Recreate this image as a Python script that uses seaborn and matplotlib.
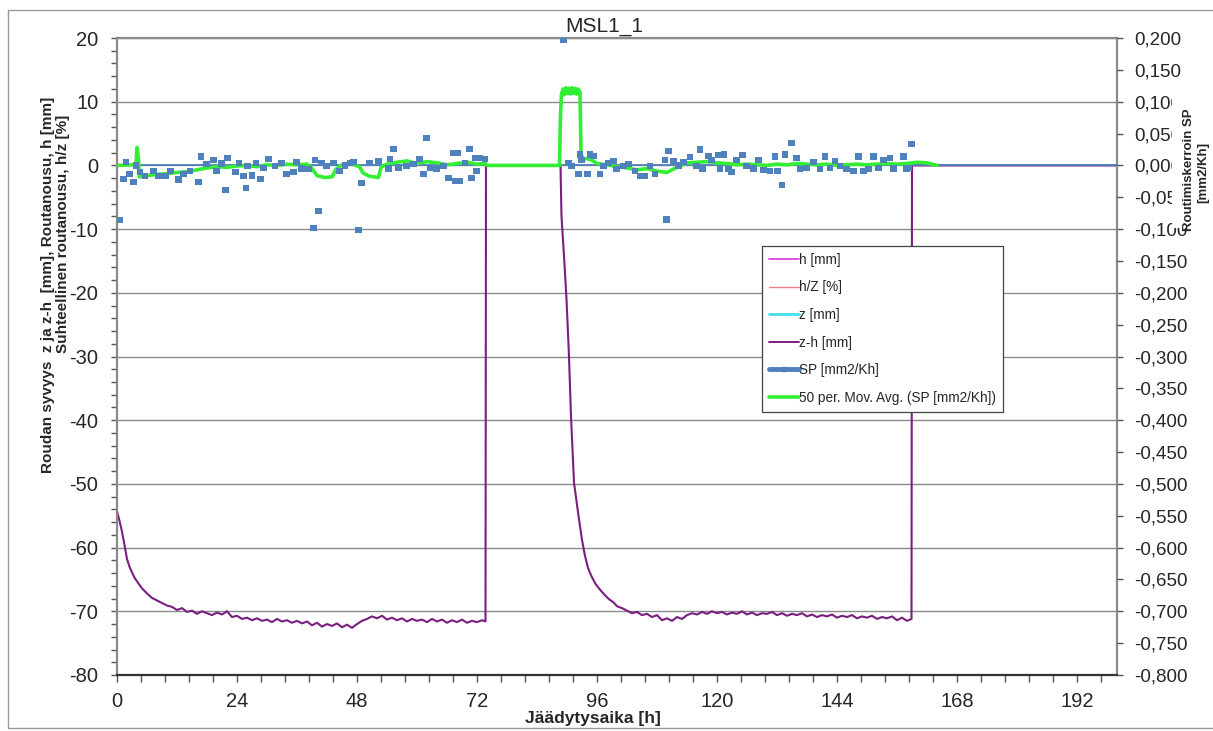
import numpy as np
import pandas as pd
import matplotlib
matplotlib.use("Agg")
import matplotlib.pyplot as plt
from matplotlib.lines import Line2D
from matplotlib.patches import Rectangle
from matplotlib.ticker import MultipleLocator, FuncFormatter
import seaborn as sns

# ---------------- data ----------------
# z-h [mm] : (time h, value mm)
zh_points = [
    (0, -54.3), (0.5, -55.8), (1, -57.5), (1.5, -59.6), (2, -61.8), (2.5, -63.0), (3, -63.9),
    (3.5, -64.7), (4, -65.3), (5, -66.4), (6, -67.2), (7, -67.9), (8, -68.3), (9, -68.7),
    (10, -69.1), (11, -69.3), (12, -69.8), (13, -69.5), (14, -70.1), (15, -69.9), (16, -70.4),
    (17, -70.0), (18, -70.3), (19, -70.6), (20, -70.2), (21, -70.5), (22, -70.0), (23, -70.9),
    (24, -70.7), (25, -71.2), (26, -71.0), (27, -71.4), (28, -71.1), (29, -71.5), (30, -71.3),
    (31, -71.7), (32, -71.2), (33, -71.6), (34, -71.4), (35, -71.8), (36, -71.5), (37, -71.9),
    (38, -71.6), (39, -72.2), (40, -71.8), (41, -72.4), (42, -72.0), (43, -72.3), (44, -71.9),
    (45, -72.5), (46, -72.1), (47, -72.6), (48, -72.0), (49, -71.5), (50, -71.2), (51, -70.8),
    (52, -71.1), (53, -70.7), (54, -71.3), (55, -71.0), (56, -71.4), (57, -71.1), (58, -71.6),
    (59, -71.2), (60, -71.5), (61, -71.3), (62, -71.7), (63, -71.2), (64, -71.6), (65, -71.3),
    (66, -71.8), (67, -71.4), (68, -71.7), (69, -71.3), (70, -71.8), (71, -71.5), (72, -71.7),
    (73, -71.4), (73.7, -71.6), (73.8, 0.0), (88.6, 0.0),
    (88.7, 0.0), (88.9, -8.0), (89.4, -14.2), (89.9, -21.0), (90.4, -30.0), (90.8, -39.4),
    (91.4, -49.8), (92.3, -55.0), (93.0, -58.8), (93.6, -61.3), (94.2, -63.2), (94.9, -64.5),
    (95.7, -65.7), (96.6, -66.6), (97.5, -67.4), (98.4, -68.1), (99.3, -68.6), (100, -69.2),
    (101, -69.5), (102, -69.9), (103, -70.3), (104, -70.1), (105, -70.6), (106, -70.4),
    (107, -70.9), (108, -70.6), (109, -71.4), (110, -71.1), (111, -71.5), (112, -70.9),
    (113, -71.2), (114, -70.6), (115, -70.3), (116, -70.5), (117, -70.1), (118, -70.4),
    (119, -70.0), (120, -70.3), (121, -70.1), (122, -70.5), (123, -70.2), (124, -70.4),
    (125, -70.0), (126, -70.5), (127, -70.2), (128, -70.6), (129, -70.3), (130, -70.4),
    (131, -70.1), (132, -70.6), (133, -70.3), (134, -70.7), (135, -70.4), (136, -70.6),
    (137, -70.3), (138, -70.8), (139, -70.5), (140, -70.9), (141, -70.6), (142, -70.8),
    (143, -70.5), (144, -71.0), (145, -70.7), (146, -70.9), (147, -70.6), (148, -71.1),
    (149, -70.8), (150, -71.0), (151, -70.7), (152, -71.2), (153, -70.9), (154, -71.1),
    (155, -70.8), (156, -71.4), (157, -71.0), (158, -71.5), (158.9, -71.2), (159.0, 0.0),
    (200, 0.0),
]

# SP [mm2/Kh] : (time h, value)
sp_points = [
    (0.6, -0.086), (1.3, -0.021), (1.8, 0.005), (2.5, -0.013), (3.3, -0.026), (3.8, 0.000),
    (4.6, -0.010), (5.6, -0.017), (7.3, -0.009), (8.3, -0.017), (9.7, -0.017), (10.7, -0.009),
    (12.3, -0.022), (13.3, -0.014), (14.6, -0.009), (16.3, -0.026), (16.8, 0.014), (17.9, 0.002),
    (19.3, 0.008), (19.9, -0.009), (20.9, 0.003), (21.7, -0.039), (22.1, 0.012), (23.7, -0.010),
    (24.4, 0.004), (25.3, -0.017), (25.8, -0.035), (26.1, -0.001), (27.0, -0.016), (27.8, 0.004),
    (28.7, -0.021), (29.3, -0.004), (30.3, 0.010), (31.6, -0.001), (32.9, 0.004), (33.9, -0.013),
    (35.3, -0.010), (35.9, 0.005), (36.9, -0.005), (38.3, -0.006), (39.3, -0.098), (39.6, 0.008),
    (40.3, -0.072), (40.9, 0.004), (41.9, -0.001), (43.3, 0.004), (44.5, -0.009), (45.6, 0.000),
    (46.6, 0.004), (47.3, 0.005), (48.3, -0.102), (48.9, -0.028), (50.5, 0.004), (52.3, 0.007),
    (54.3, -0.005), (54.6, 0.010), (55.3, 0.026), (56.3, -0.004), (57.9, -0.001), (59.3, 0.002),
    (60.5, 0.010), (61.3, -0.014), (61.9, 0.043), (62.6, -0.004), (63.9, -0.006), (65.3, -0.001),
    (66.3, -0.020), (67.3, 0.019), (67.6, -0.025), (68.1, 0.020), (68.6, -0.025), (69.6, 0.004),
    (70.5, 0.026), (70.9, -0.020), (71.6, 0.012), (71.9, -0.009), (72.6, 0.012), (73.6, 0.010),
    (89.3, 0.197), (90.3, 0.004), (90.9, -0.001), (92.3, -0.013), (92.6, 0.017), (92.9, 0.009),
    (94.1, -0.013), (94.6, 0.017), (95.3, 0.015), (96.6, -0.013), (97.3, -0.001), (98.3, 0.004),
    (99.3, 0.007), (99.9, -0.006), (101.3, -0.001), (102.3, 0.002), (103.6, -0.009),
    (104.6, -0.017), (105.6, -0.017), (106.6, -0.001), (107.6, -0.014), (109.6, 0.009),
    (109.9, -0.085), (110.3, 0.023), (111.3, 0.007), (112.3, 0.000), (113.3, 0.005),
    (114.6, 0.013), (115.9, -0.001), (116.6, 0.025), (117.1, -0.006), (118.3, 0.015),
    (118.9, 0.009), (120.3, 0.016), (120.6, -0.005), (121.4, 0.017), (122.3, -0.006),
    (122.9, -0.010), (123.9, 0.009), (125.1, 0.016), (125.9, -0.001), (127.3, -0.005),
    (128.3, 0.009), (129.3, -0.007), (130.6, -0.009), (131.6, 0.014), (132.1, -0.009),
    (133.0, -0.031), (133.6, 0.017), (134.9, 0.035), (135.9, 0.012), (136.6, -0.006),
    (137.9, -0.004), (139.3, 0.005), (140.6, -0.006), (141.6, 0.014), (142.6, -0.004),
    (143.6, 0.007), (144.6, -0.001), (145.9, -0.006), (147.3, -0.009), (148.3, 0.014),
    (149.3, -0.009), (150.3, -0.006), (151.3, 0.014), (152.3, -0.004), (153.3, 0.009),
    (154.6, 0.012), (155.3, -0.005), (157.3, 0.014), (157.9, -0.005), (158.3, -0.004),
    (158.9, 0.033),
]

# 50 per. moving average of SP : (time h, value)
ma_points = [
    (0, 0.0), (3.8, 0.001), (4.0, 0.028), (4.3, 0.010), (4.5, -0.018), (6, -0.016), (8, -0.014),
    (10, -0.013), (12, -0.011), (14, -0.010), (16, -0.007), (18, -0.004), (20, -0.002),
    (22, -0.003), (24, -0.001), (26, 0.0), (28, -0.002), (30, 0.001), (32, 0.0), (34, 0.002),
    (36, 0.001), (38, 0.002), (39, -0.005), (40, -0.016), (41.5, -0.019), (43, -0.018),
    (43.8, -0.006), (45, 0.001), (47, 0.002), (48.5, -0.002), (49.2, -0.012), (50.5, -0.017),
    (52.3, -0.019), (52.8, -0.003), (54, 0.002), (56, 0.005), (58, 0.007), (60, 0.003),
    (62, 0.006), (64, 0.004), (66, 0.001), (68, 0.003), (70, 0.005), (72, 0.002), (73.7, 0.003),
    (74, 0.0), (88.5, 0.0), (88.7, 0.080), (88.9, 0.112), (89.2, 0.120), (89.5, 0.111),
    (89.8, 0.122), (90.1, 0.113), (90.4, 0.121), (90.7, 0.112), (91.0, 0.122), (91.3, 0.113),
    (91.6, 0.121), (91.9, 0.112), (92.2, 0.120), (92.6, 0.115), (92.8, 0.020), (93.2, 0.009),
    (94, 0.011), (95, 0.008), (96, 0.003), (98, 0.001), (100, -0.002), (102, -0.004),
    (104, -0.007), (106, -0.005), (108, -0.009), (110, -0.011), (112, -0.003), (114, 0.004),
    (116, 0.005), (118, 0.006), (120, 0.004), (122, 0.003), (124, 0.001), (126, 0.002),
    (128, 0.001), (130, 0.0), (132, 0.002), (134, 0.001), (136, 0.003), (138, 0.002),
    (140, 0.001), (142, 0.002), (144, 0.0), (146, 0.001), (148, 0.002), (150, 0.001),
    (152, 0.002), (154, 0.003), (156, 0.002), (158, 0.003), (160, 0.005), (162, 0.004),
    (163, 0.002), (164, 0.0),
]

legend_labels = ["h [mm]", "h/Z [%]", "z [mm]", "z-h [mm]", "SP [mm2/Kh]",
                 "50 per. Mov. Avg. (SP [mm2/Kh])"]
x_ticks = [0, 24, 48, 72, 96, 120, 144, 168, 192]

zh = pd.DataFrame(zh_points, columns=["t", "v"])
sp = pd.DataFrame(sp_points, columns=["t", "v"])
ma = pd.DataFrame(ma_points, columns=["t", "v"])

# ---------------- style ----------------
sns.set_style("white")
plt.rcParams['font.family'] = ['Liberation Sans', 'DejaVu Sans']
plt.rcParams['axes.unicode_minus'] = False

C_H = "#E050E0"
C_HZ = "#F08080"
C_Z = "#40E0E8"
C_ZH = "#7A1E80"
C_SP = "#4F81BD"
C_MA = "#33EE33"
GRID = "#8A8A8A"

W, H = 1213, 731
fig = plt.figure(figsize=(W / 100, H / 100), dpi=100)
ax = fig.add_axes([117 / W, 56 / H, 1000 / W, 637 / H])

# z-h line on left axis
sns.lineplot(data=zh, x="t", y="v", ax=ax, color=C_ZH, linewidth=1.5,
             estimator=None, sort=False, legend=False)

ax.set_xlim(0, 200)
ax.set_ylim(-80, 20)
ax.xaxis.set_major_locator(MultipleLocator(24))
ax.xaxis.set_minor_locator(MultipleLocator(4.8))
ax.yaxis.set_major_locator(MultipleLocator(10))
ax.yaxis.set_minor_locator(MultipleLocator(2))
ax.set_xticks(x_ticks)
ax.yaxis.set_major_formatter(FuncFormatter(lambda v, p: f"{int(round(v))}"))
ax.grid(axis="y", which="major", color=GRID, linewidth=1.0)
ax.grid(axis="x", visible=False)
ax.set_xlabel("")
ax.set_ylabel("")
ax.tick_params(axis="both", which="major", labelsize=14.5, direction="out", length=4.5,
               width=1.0, color="#555555")
ax.tick_params(axis="y", which="major", pad=9, left=True)
ax.tick_params(axis="y", which="minor", direction="out", length=4, width=1.0,
               color="#555555", left=True)
ax.tick_params(axis="x", which="major", pad=7, bottom=True, length=5)
ax.tick_params(axis="x", which="minor", direction="out", length=5, width=1.0,
               color="#555555", bottom=True)
for s in ["left", "top"]:
    ax.spines[s].set_color("#8A8A8A")
    ax.spines[s].set_linewidth(1.6)
ax.spines["bottom"].set_color("#333333")
ax.spines["bottom"].set_linewidth(1.6)
ax.spines["right"].set_color("#8A8A8A")
ax.spines["right"].set_linewidth(1.6)

# right axis: SP
ax2 = ax.twinx()
ax2.axhline(0, color=C_SP, linewidth=1.3, zorder=1)
sns.lineplot(data=ma, x="t", y="v", ax=ax2, color=C_MA, linewidth=2.6,
             estimator=None, sort=False, legend=False, zorder=3)
sns.scatterplot(data=sp, x="t", y="v", ax=ax2, color=C_SP, marker="s", s=20,
                edgecolor="none", linewidth=0, zorder=4, legend=False)
ax2.set_ylim(-0.8, 0.2)
ax2.set_xlim(0, 200)
ax2.yaxis.set_major_locator(MultipleLocator(0.05))


def comma_fmt(v, p):
    if abs(v) < 1e-9:
        v = 0.0
    return f"{v:.3f}".replace(".", ",")


ax2.yaxis.set_major_formatter(FuncFormatter(comma_fmt))
ax2.tick_params(axis="y", which="major", labelsize=13.5, direction="out", length=4.5,
                width=1.0, color="#555555", pad=8, right=True)
ax2.set_ylabel("")
ax2.set_xlabel("")
for s in ax2.spines.values():
    s.set_visible(False)
ax2.grid(False)

# legend
handles = [
    Line2D([], [], color=C_H, linewidth=1.4),
    Line2D([], [], color=C_HZ, linewidth=1.0),
    Line2D([], [], color=C_Z, linewidth=2.0),
    Line2D([], [], color=C_ZH, linewidth=1.4),
    Line2D([], [], color=C_SP, linewidth=3.5, marker="s", markersize=3),
    Line2D([], [], color=C_MA, linewidth=2.6),
]
leg = ax2.legend(handles, legend_labels, loc="upper left",
                 bbox_to_anchor=((762 - 117) / 1000, (675 - 246) / 637),
                 fontsize=9.8, frameon=True, fancybox=False, framealpha=1,
                 edgecolor="#444444", labelspacing=1.0, handlelength=2.2,
                 handletextpad=0.0, borderpad=0.5, borderaxespad=0)
leg.get_frame().set_linewidth(0.9)
leg.set_zorder(10)

# texts
fig.text(604 / W, 1 - 27 / H, "MSL1_1", ha="center", va="center", fontsize=15)
fig.text(593 / W, 1 - 719 / H, "Jäädytysaika [h]", ha="center", va="center",
         fontsize=12.5, fontweight="bold")
fig.text(48 / W, 1 - 285 / H, "Roudan syvyys  z ja z-h  [mm], Routanousu, h [mm]",
         rotation=90, ha="center", va="center", fontsize=11, fontweight="bold")
fig.text(63 / W, 1 - 234 / H, "Suhteellinen routanousu, h/z [%]",
         rotation=90, ha="center", va="center", fontsize=11, fontweight="bold")

# right label with white background covering the tick labels
fig.add_artist(Rectangle((1172 / W, 1 - 228 / H), (W - 1172) / W, (228 - 88) / H,
                         transform=fig.transFigure, facecolor="white",
                         edgecolor="none", zorder=5))
fig.text(1189 / W, 1 - 170 / H, "Routimiskerroin SP", rotation=90, ha="center",
         va="center", fontsize=9.5, fontweight="bold", zorder=6)
fig.text(1203 / W, 1 - 172 / H, "[mm2/Kh]", rotation=90, ha="center",
         va="center", fontsize=9.5, fontweight="bold", zorder=6)

# outer chart border
for (xs, ys) in [((8, 8), (10, 728)), ((8, W), (10, 10)), ((8, W), (728, 728))]:
    fig.add_artist(Line2D([x / W for x in xs], [1 - y / H for y in ys],
                          transform=fig.transFigure, color="#9A9A9A", linewidth=1.0))

fig.savefig("out.png", dpi=100)
